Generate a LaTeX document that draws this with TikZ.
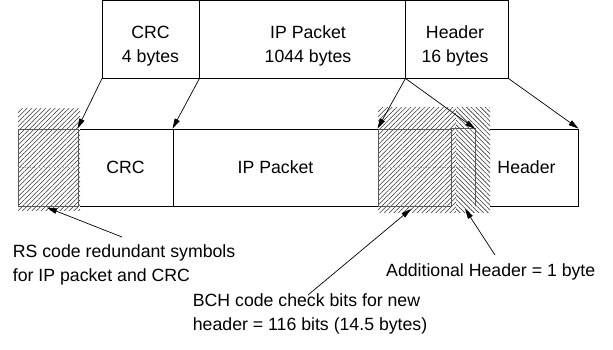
\documentclass[tikz,border=0pt]{standalone}
\usepackage{fontspec}
\setmainfont{Liberation Sans}
\usetikzlibrary{arrows.meta,patterns.meta}
\tikzset{
  box/.style={draw=black, line width=0.9pt, inner sep=0pt, minimum height=77pt, font=\fontsize{17.7pt}{24pt}\selectfont},
  tbox/.style={draw=black, line width=0.9pt, inner sep=0pt, minimum height=77.5pt},
  place/.style={inner sep=0pt, minimum height=77pt},
  lbl/.style={inner sep=0pt, font=\fontsize{17.7pt}{24pt}\selectfont},
  conn/.style={line width=0.7pt, -{Triangle[length=10pt,width=5.5pt]}},
  fwd/.style={pattern={Lines[angle=45,distance=3.3pt,line width=0.55pt]}, pattern color=black!80},
  bwd/.style={pattern={Lines[angle=-45,distance=3.3pt,line width=0.55pt]}, pattern color=black!80},
  hout/.style={draw=black!65, line width=0.9pt, inner sep=0pt, minimum height=77pt},
  faint/.style={draw=black!35, line width=0.4pt, dotted},
}
\begin{document}
\begin{tikzpicture}[x=1pt,y=-1pt]
\useasboundingbox (0,0) rectangle (613,350);
% top row
\node[tbox, minimum width=96.5pt] (tcrc) at (150.75,39.25) {};
\node[tbox, minimum width=206pt] (tip) at (302,39.25) {};
\node[tbox, minimum width=103pt] (thdr) at (456.5,39.25) {};
\node[lbl, align=center, anchor=north] (tcrct) at (150.5,25.5) {CRC\\4 bytes};
\node[lbl, align=center, anchor=north] (tipt) at (308,25.5) {IP Packet\\1044 bytes};
\node[lbl, align=center, anchor=north] (thdrt) at (455,25.5) {Header\\16 bytes};
% bottom row
\node[box, minimum width=95pt] (crc) at (125.5,167.5) {CRC};
\node[box, minimum width=205pt] (ip) at (275.5,167.5) {IP Packet};
\node[box, minimum width=103pt] (hdr) at (526.5,167.5) {Header};
% hatched areas
\fill[white] (18,109) rectangle (80,210);
\fill[fwd] (18,109) rectangle (80,210);
\fill[white] (378,108) rectangle (490,212);
\fill[fwd] (378,108) rectangle (456,212);
\fill[bwd] (456,108) rectangle (490,212);
% outlines over hatching
\node[hout, minimum width=60pt] (rs) at (48,167.5) {};
\node[hout, minimum width=73pt] (bch) at (414.5,167.5) {};
\node[place, minimum width=24pt] (addh) at (463,167.5) {};
\draw[draw=black!65, line width=0.9pt] (addh.north west) -- (addh.north east) -- (addh.south east);
\draw[faint] (rs.west) -- (rs.east);
\draw[faint] (bch.west) -- (addh.east);
% connectors from top to bottom
\draw[conn] (tcrc.south west) -- (crc.north west);
\draw[conn] (tcrc.south east) -- (ip.north west);
\draw[conn] (tip.south east) -- (bch.north west);
\draw[conn] (tip.south east) -- (addh.north east);
\draw[conn] (thdr.south east) -- (hdr.north east);
% labels
\node[lbl, align=left, anchor=north west] (rsl) at (12.7,244) {RS code redundant symbols\\for IP packet and CRC};
\node[lbl, align=left, anchor=north west] (bchl) at (192.7,293.2) {BCH code check bits for new\\header = 116 bits (14.5 bytes)};
\node[lbl, anchor=base west] (addl) at (386,276) {Additional Header = 1 byte};
\coordinate (rsfrom) at (122,237);
\coordinate (rsto) at (47,207.5);
\coordinate (bchfrom) at (308,295);
\coordinate (bchto) at (411,209);
\coordinate (addfrom) at (495,255);
\coordinate (addto) at (465,209);
\draw[conn] (rsfrom) -- (rsto);
\draw[conn] (bchfrom) -- (bchto);
\draw[conn] (addfrom) -- (addto);
\end{tikzpicture}
\end{document}
